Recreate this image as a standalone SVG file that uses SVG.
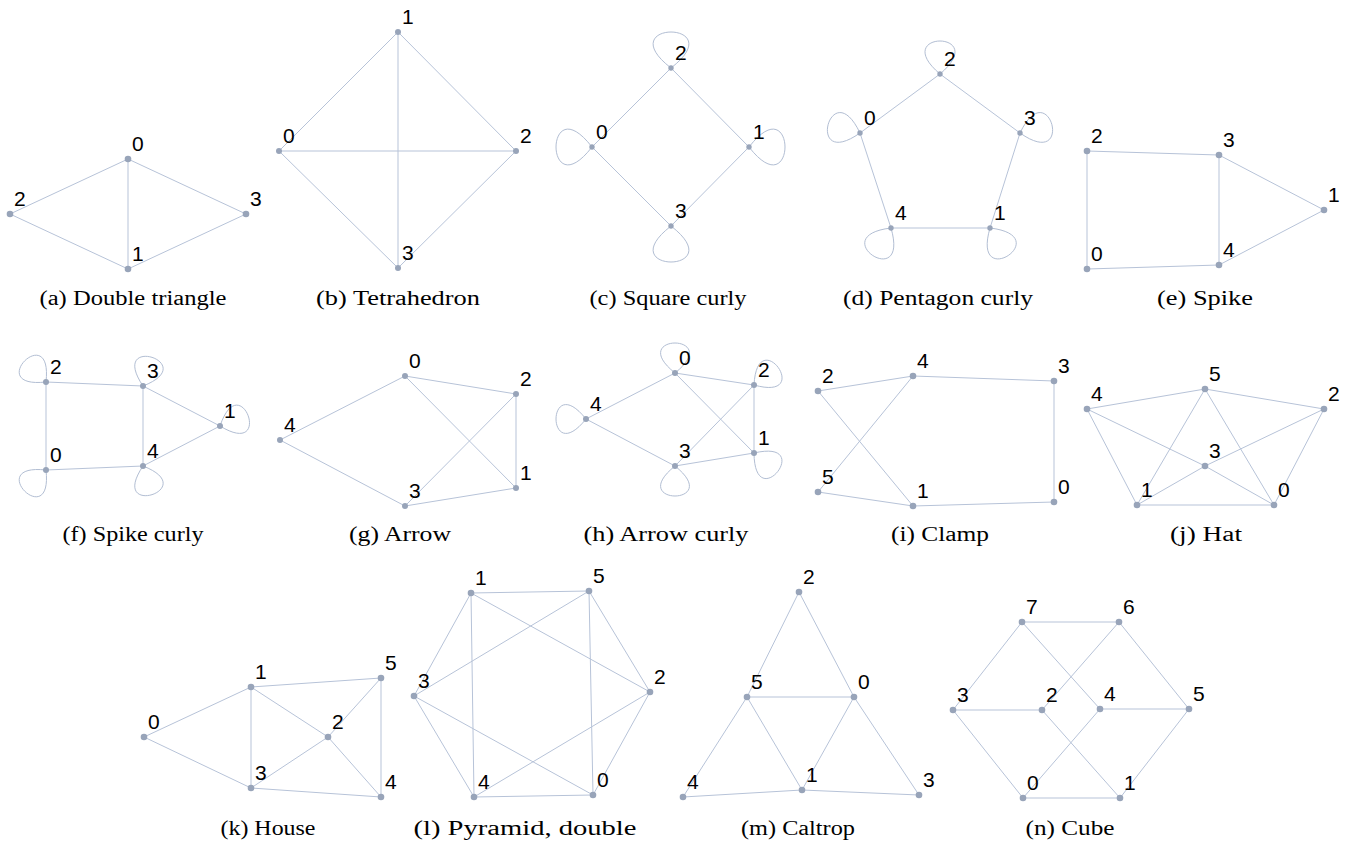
<svg xmlns="http://www.w3.org/2000/svg" width="1346" height="843" viewBox="0 0 1346 843">
<style>
.e line{stroke:#b7c3d8;stroke-width:1;fill:none}
.e path{stroke:#b2bed3;stroke-width:1;fill:none}
.n circle{fill:#98a4b9}
.n text{font-family:"Liberation Sans",Arial,sans-serif;font-size:21px;fill:#000}
.cap{font-family:"Liberation Serif","Times New Roman",serif;font-size:20px;fill:#000;text-anchor:middle}
</style>
<rect width="1346" height="843" fill="#fff"/>

<!-- (a) Double triangle -->
<g id="a">
<g id="a-edges" class="e">
<line x1="128" y1="159" x2="10" y2="214"/><line x1="128" y1="159" x2="246" y2="214"/><line x1="128" y1="159" x2="128" y2="269"/><line x1="10" y1="214" x2="128" y2="269"/><line x1="246" y1="214" x2="128" y2="269"/>
</g>
<g id="a-n0" class="n"><circle cx="128" cy="159" r="3.3"/><text x="132" y="151">0</text></g>
<g id="a-n1" class="n"><circle cx="128" cy="269" r="3.3"/><text x="132" y="261">1</text></g>
<g id="a-n2" class="n"><circle cx="10" cy="214" r="3.3"/><text x="14" y="206">2</text></g>
<g id="a-n3" class="n"><circle cx="246" cy="214" r="3.3"/><text x="250" y="206">3</text></g>
<text class="cap" x="133" y="305" textLength="187" lengthAdjust="spacingAndGlyphs">(a) Double triangle</text>
</g>

<!-- (b) Tetrahedron -->
<g id="b">
<g id="b-edges" class="e">
<line x1="279" y1="151" x2="398" y2="32"/><line x1="398" y1="32" x2="516" y2="151"/><line x1="279" y1="151" x2="516" y2="151"/><line x1="398" y1="32" x2="398" y2="268"/><line x1="279" y1="151" x2="398" y2="268"/><line x1="516" y1="151" x2="398" y2="268"/>
</g>
<g id="b-n0" class="n"><circle cx="279" cy="151" r="3"/><text x="283" y="143">0</text></g>
<g id="b-n1" class="n"><circle cx="398" cy="32" r="3"/><text x="402" y="24">1</text></g>
<g id="b-n2" class="n"><circle cx="516" cy="151" r="3"/><text x="520" y="143">2</text></g>
<g id="b-n3" class="n"><circle cx="398" cy="268" r="3"/><text x="402" y="260">3</text></g>
<text class="cap" x="398" y="305" textLength="164" lengthAdjust="spacingAndGlyphs">(b) Tetrahedron</text>
</g>

<!-- (c) Square curly -->
<g id="c">
<g id="c-edges" class="e">
<line x1="671" y1="68" x2="592" y2="147"/><line x1="671" y1="68" x2="749" y2="147"/><line x1="592" y1="147" x2="671" y2="226"/><line x1="749" y1="147" x2="671" y2="226"/>
<path d="M671,68 C609,20 733,20 671,68"/>
<path d="M592,147 C544,85 544,209 592,147"/>
<path d="M749,147 C797,85 797,209 749,147"/>
<path d="M671,226 C609,274 733,274 671,226"/>
</g>
<g id="c-n0" class="n"><circle cx="592" cy="147" r="2.7"/><text x="596" y="139">0</text></g>
<g id="c-n1" class="n"><circle cx="749" cy="147" r="2.7"/><text x="753" y="139">1</text></g>
<g id="c-n2" class="n"><circle cx="671" cy="68" r="2.7"/><text x="675" y="60">2</text></g>
<g id="c-n3" class="n"><circle cx="671" cy="226" r="2.7"/><text x="675" y="218">3</text></g>
<text class="cap" x="668" y="305" textLength="157" lengthAdjust="spacingAndGlyphs">(c) Square curly</text>
</g>

<!-- (d) Pentagon curly -->
<g id="d">
<g id="d-edges" class="e">
<line x1="940" y1="74" x2="860" y2="133"/><line x1="940" y1="74" x2="1020" y2="133"/><line x1="860" y1="133" x2="891" y2="228"/><line x1="1020" y1="133" x2="990" y2="228"/><line x1="891" y1="228" x2="990" y2="228"/>
<path d="M940,74 C888,30 992,30 940,74"/>
<path d="M860,133 C804.3,172.1 830.7,71.5 860,133"/>
<path d="M1020,133 C1049.3,71.5 1075.7,172.1 1020,133"/>
<path d="M891,228 C910.1,293.4 823.3,236 891,228"/>
<path d="M990,228 C1057.7,236 970.9,293.4 990,228"/>
</g>
<g id="d-n0" class="n"><circle cx="860" cy="133" r="2.7"/><text x="864" y="125">0</text></g>
<g id="d-n1" class="n"><circle cx="990" cy="228" r="2.7"/><text x="994" y="220">1</text></g>
<g id="d-n2" class="n"><circle cx="940" cy="74" r="2.7"/><text x="944" y="66">2</text></g>
<g id="d-n3" class="n"><circle cx="1020" cy="133" r="2.7"/><text x="1024" y="125">3</text></g>
<g id="d-n4" class="n"><circle cx="891" cy="228" r="2.7"/><text x="895" y="220">4</text></g>
<text class="cap" x="938" y="305" textLength="190" lengthAdjust="spacingAndGlyphs">(d) Pentagon curly</text>
</g>

<!-- (e) Spike -->
<g id="e">
<g id="e-edges" class="e">
<line x1="1087" y1="151" x2="1219" y2="155"/><line x1="1087" y1="151" x2="1087" y2="269"/><line x1="1219" y1="155" x2="1219" y2="265"/><line x1="1219" y1="155" x2="1324" y2="210"/><line x1="1219" y1="265" x2="1324" y2="210"/><line x1="1087" y1="269" x2="1219" y2="265"/>
</g>
<g id="e-n0" class="n"><circle cx="1087" cy="269" r="3.3"/><text x="1091" y="261">0</text></g>
<g id="e-n1" class="n"><circle cx="1324" cy="210" r="3.3"/><text x="1328" y="202">1</text></g>
<g id="e-n2" class="n"><circle cx="1087" cy="151" r="3.3"/><text x="1091" y="143">2</text></g>
<g id="e-n3" class="n"><circle cx="1219" cy="155" r="3.3"/><text x="1223" y="147">3</text></g>
<g id="e-n4" class="n"><circle cx="1219" cy="265" r="3.3"/><text x="1223" y="257">4</text></g>
<text class="cap" x="1205" y="305" textLength="96" lengthAdjust="spacingAndGlyphs">(e) Spike</text>
</g>

<!-- (f) Spike curly -->
<g id="f">
<g id="f-edges" class="e">
<line x1="46" y1="382" x2="143" y2="386"/><line x1="46" y1="382" x2="46" y2="470"/><line x1="143" y1="386" x2="143" y2="466"/><line x1="143" y1="386" x2="220" y2="426"/><line x1="143" y1="466" x2="220" y2="426"/><line x1="46" y1="470" x2="143" y2="466"/>
<path d="M46,382 C-17.7,389.1 53.1,318.3 46,382"/>
<path d="M143,386 C107.3,332.8 202.7,362.8 143,386"/>
<path d="M220,426 C240.6,365.4 274.6,459.4 220,426"/>
<path d="M46,470 C53.1,533.7 -17.7,462.9 46,470"/>
<path d="M143,466 C202.7,489.2 107.3,519.2 143,466"/>
</g>
<g id="f-n0" class="n"><circle cx="46" cy="470" r="3"/><text x="50" y="462">0</text></g>
<g id="f-n1" class="n"><circle cx="220" cy="426" r="3"/><text x="224" y="418">1</text></g>
<g id="f-n2" class="n"><circle cx="46" cy="382" r="3"/><text x="50" y="374">2</text></g>
<g id="f-n3" class="n"><circle cx="143" cy="386" r="3"/><text x="147" y="378">3</text></g>
<g id="f-n4" class="n"><circle cx="143" cy="466" r="3"/><text x="147" y="458">4</text></g>
<text class="cap" x="133" y="541" textLength="141" lengthAdjust="spacingAndGlyphs">(f) Spike curly</text>
</g>

<!-- (g) Arrow -->
<g id="g">
<g id="g-edges" class="e">
<line x1="405" y1="376" x2="280" y2="440"/><line x1="405" y1="376" x2="516" y2="394"/><line x1="405" y1="376" x2="516" y2="488"/><line x1="516" y1="394" x2="405" y2="506"/><line x1="516" y1="394" x2="516" y2="488"/><line x1="280" y1="440" x2="405" y2="506"/><line x1="405" y1="506" x2="516" y2="488"/>
</g>
<g id="g-n0" class="n"><circle cx="405" cy="376" r="3"/><text x="409" y="368">0</text></g>
<g id="g-n1" class="n"><circle cx="516" cy="488" r="3"/><text x="520" y="480">1</text></g>
<g id="g-n2" class="n"><circle cx="516" cy="394" r="3"/><text x="520" y="386">2</text></g>
<g id="g-n3" class="n"><circle cx="405" cy="506" r="3"/><text x="409" y="498">3</text></g>
<g id="g-n4" class="n"><circle cx="280" cy="440" r="3"/><text x="284" y="432">4</text></g>
<text class="cap" x="400" y="541" textLength="102" lengthAdjust="spacingAndGlyphs">(g) Arrow</text>
</g>

<!-- (h) Arrow curly -->
<g id="h">
<g id="h-edges" class="e">
<line x1="675" y1="373" x2="586" y2="419"/><line x1="675" y1="373" x2="754" y2="385"/><line x1="675" y1="373" x2="754" y2="453"/><line x1="754" y1="385" x2="675" y2="466"/><line x1="754" y1="385" x2="754" y2="453"/><line x1="586" y1="419" x2="675" y2="466"/><line x1="675" y1="466" x2="754" y2="453"/>
<path d="M675,373 C625,333 725,333 675,373"/>
<path d="M754,385 C757.4,321.3 815.4,402.3 754,385"/>
<path d="M586,419 C546,469 546,369 586,419"/>
<path d="M754,453 C816.6,438.3 754.6,517.3 754,453"/>
<path d="M675,466 C725,506 625,506 675,466"/>
</g>
<g id="h-n0" class="n"><circle cx="675" cy="373" r="3"/><text x="679" y="365">0</text></g>
<g id="h-n1" class="n"><circle cx="754" cy="453" r="3"/><text x="758" y="445">1</text></g>
<g id="h-n2" class="n"><circle cx="754" cy="385" r="3"/><text x="758" y="377">2</text></g>
<g id="h-n3" class="n"><circle cx="675" cy="466" r="3"/><text x="679" y="458">3</text></g>
<g id="h-n4" class="n"><circle cx="586" cy="419" r="3"/><text x="590" y="411">4</text></g>
<text class="cap" x="666" y="541" textLength="165" lengthAdjust="spacingAndGlyphs">(h) Arrow curly</text>
</g>

<!-- (i) Clamp -->
<g id="i">
<g id="i-edges" class="e">
<line x1="818" y1="391" x2="913" y2="376"/><line x1="913" y1="376" x2="1054" y2="381"/><line x1="1054" y1="381" x2="1054" y2="502"/><line x1="818" y1="391" x2="913" y2="506"/><line x1="913" y1="376" x2="818" y2="492"/><line x1="818" y1="492" x2="913" y2="506"/><line x1="913" y1="506" x2="1054" y2="502"/>
</g>
<g id="i-n0" class="n"><circle cx="1054" cy="502" r="3.3"/><text x="1058" y="494">0</text></g>
<g id="i-n1" class="n"><circle cx="913" cy="506" r="3.3"/><text x="917" y="498">1</text></g>
<g id="i-n2" class="n"><circle cx="818" cy="391" r="3.3"/><text x="822" y="383">2</text></g>
<g id="i-n3" class="n"><circle cx="1054" cy="381" r="3.3"/><text x="1058" y="373">3</text></g>
<g id="i-n4" class="n"><circle cx="913" cy="376" r="3.3"/><text x="917" y="368">4</text></g>
<g id="i-n5" class="n"><circle cx="818" cy="492" r="3.3"/><text x="822" y="484">5</text></g>
<text class="cap" x="940" y="541" textLength="98" lengthAdjust="spacingAndGlyphs">(i) Clamp</text>
</g>

<!-- (j) Hat -->
<g id="j">
<g id="j-edges" class="e">
<line x1="1087" y1="409" x2="1205" y2="389"/><line x1="1205" y1="389" x2="1324" y2="409"/><line x1="1087" y1="409" x2="1137" y2="505"/><line x1="1087" y1="409" x2="1205" y2="466"/><line x1="1205" y1="466" x2="1274" y2="505"/><line x1="1324" y1="409" x2="1205" y2="466"/><line x1="1205" y1="466" x2="1137" y2="505"/><line x1="1205" y1="389" x2="1137" y2="505"/><line x1="1205" y1="389" x2="1274" y2="505"/><line x1="1324" y1="409" x2="1274" y2="505"/><line x1="1137" y1="505" x2="1274" y2="505"/>
</g>
<g id="j-n0" class="n"><circle cx="1274" cy="505" r="3.3"/><text x="1278" y="497">0</text></g>
<g id="j-n1" class="n"><circle cx="1137" cy="505" r="3.3"/><text x="1141" y="497">1</text></g>
<g id="j-n2" class="n"><circle cx="1324" cy="409" r="3.3"/><text x="1328" y="401">2</text></g>
<g id="j-n3" class="n"><circle cx="1205" cy="466" r="3.3"/><text x="1209" y="458">3</text></g>
<g id="j-n4" class="n"><circle cx="1087" cy="409" r="3.3"/><text x="1091" y="401">4</text></g>
<g id="j-n5" class="n"><circle cx="1205" cy="389" r="3.3"/><text x="1209" y="381">5</text></g>
<text class="cap" x="1206" y="541" textLength="72" lengthAdjust="spacingAndGlyphs">(j) Hat</text>
</g>

<!-- (k) House -->
<g id="k">
<g id="k-edges" class="e">
<line x1="144" y1="737" x2="251" y2="687"/><line x1="144" y1="737" x2="251" y2="788"/><line x1="251" y1="687" x2="381" y2="678"/><line x1="251" y1="687" x2="251" y2="788"/><line x1="251" y1="687" x2="328" y2="737"/><line x1="328" y1="737" x2="381" y2="678"/><line x1="328" y1="737" x2="251" y2="788"/><line x1="328" y1="737" x2="381" y2="797"/><line x1="381" y1="678" x2="381" y2="797"/><line x1="251" y1="788" x2="381" y2="797"/>
</g>
<g id="k-n0" class="n"><circle cx="144" cy="737" r="3.3"/><text x="148" y="729">0</text></g>
<g id="k-n1" class="n"><circle cx="251" cy="687" r="3.3"/><text x="255" y="679">1</text></g>
<g id="k-n2" class="n"><circle cx="328" cy="737" r="3.3"/><text x="332" y="729">2</text></g>
<g id="k-n3" class="n"><circle cx="251" cy="788" r="3.3"/><text x="255" y="780">3</text></g>
<g id="k-n4" class="n"><circle cx="381" cy="797" r="3.3"/><text x="385" y="789">4</text></g>
<g id="k-n5" class="n"><circle cx="381" cy="678" r="3.3"/><text x="385" y="670">5</text></g>
<text class="cap" x="268" y="835" textLength="95" lengthAdjust="spacingAndGlyphs">(k) House</text>
</g>

<!-- (l) Pyramid, double -->
<g id="l">
<g id="l-edges" class="e">
<line x1="471" y1="593" x2="589" y2="591"/><line x1="471" y1="593" x2="414" y2="696"/><line x1="471" y1="593" x2="474" y2="797"/><line x1="471" y1="593" x2="650" y2="692"/><line x1="589" y1="591" x2="414" y2="696"/><line x1="589" y1="591" x2="593" y2="795"/><line x1="589" y1="591" x2="650" y2="692"/><line x1="414" y1="696" x2="474" y2="797"/><line x1="414" y1="696" x2="593" y2="795"/><line x1="650" y1="692" x2="474" y2="797"/><line x1="650" y1="692" x2="593" y2="795"/><line x1="474" y1="797" x2="593" y2="795"/>
</g>
<g id="l-n0" class="n"><circle cx="593" cy="795" r="3.3"/><text x="597" y="787">0</text></g>
<g id="l-n1" class="n"><circle cx="471" cy="593" r="3.3"/><text x="475" y="585">1</text></g>
<g id="l-n2" class="n"><circle cx="650" cy="692" r="3.3"/><text x="654" y="684">2</text></g>
<g id="l-n3" class="n"><circle cx="414" cy="696" r="3.3"/><text x="418" y="688">3</text></g>
<g id="l-n4" class="n"><circle cx="474" cy="797" r="3.3"/><text x="478" y="789">4</text></g>
<g id="l-n5" class="n"><circle cx="589" cy="591" r="3.3"/><text x="593" y="583">5</text></g>
<text class="cap" x="525" y="835" textLength="223" lengthAdjust="spacingAndGlyphs">(l) Pyramid, double</text>
</g>

<!-- (m) Caltrop -->
<g id="m">
<g id="m-edges" class="e">
<line x1="799" y1="592" x2="747" y2="697"/><line x1="799" y1="592" x2="854" y2="697"/><line x1="747" y1="697" x2="854" y2="697"/><line x1="747" y1="697" x2="683" y2="797"/><line x1="747" y1="697" x2="802" y2="790"/><line x1="854" y1="697" x2="802" y2="790"/><line x1="854" y1="697" x2="919" y2="795"/><line x1="683" y1="797" x2="802" y2="790"/><line x1="802" y1="790" x2="919" y2="795"/>
</g>
<g id="m-n0" class="n"><circle cx="854" cy="697" r="3.3"/><text x="858" y="689">0</text></g>
<g id="m-n1" class="n"><circle cx="802" cy="790" r="3.3"/><text x="806" y="782">1</text></g>
<g id="m-n2" class="n"><circle cx="799" cy="592" r="3.3"/><text x="803" y="584">2</text></g>
<g id="m-n3" class="n"><circle cx="919" cy="795" r="3.3"/><text x="923" y="787">3</text></g>
<g id="m-n4" class="n"><circle cx="683" cy="797" r="3.3"/><text x="687" y="789">4</text></g>
<g id="m-n5" class="n"><circle cx="747" cy="697" r="3.3"/><text x="751" y="689">5</text></g>
<text class="cap" x="798" y="835" textLength="114" lengthAdjust="spacingAndGlyphs">(m) Caltrop</text>
</g>

<!-- (n) Cube -->
<g id="n">
<g id="n-edges" class="e">
<line x1="1022" y1="622" x2="1119" y2="622"/><line x1="1022" y1="622" x2="953" y2="710"/><line x1="1022" y1="622" x2="1100" y2="709"/><line x1="1119" y1="622" x2="1042" y2="710"/><line x1="1119" y1="622" x2="1189" y2="709"/><line x1="953" y1="710" x2="1042" y2="710"/><line x1="953" y1="710" x2="1023" y2="798"/><line x1="1100" y1="709" x2="1189" y2="709"/><line x1="1100" y1="709" x2="1023" y2="798"/><line x1="1042" y1="710" x2="1120" y2="798"/><line x1="1189" y1="709" x2="1120" y2="798"/><line x1="1023" y1="798" x2="1120" y2="798"/>
</g>
<g id="n-n0" class="n"><circle cx="1023" cy="798" r="3.3"/><text x="1027" y="790">0</text></g>
<g id="n-n1" class="n"><circle cx="1120" cy="798" r="3.3"/><text x="1124" y="790">1</text></g>
<g id="n-n2" class="n"><circle cx="1042" cy="710" r="3.3"/><text x="1046" y="702">2</text></g>
<g id="n-n3" class="n"><circle cx="953" cy="710" r="3.3"/><text x="957" y="702">3</text></g>
<g id="n-n4" class="n"><circle cx="1100" cy="709" r="3.3"/><text x="1104" y="701">4</text></g>
<g id="n-n5" class="n"><circle cx="1189" cy="709" r="3.3"/><text x="1193" y="701">5</text></g>
<g id="n-n6" class="n"><circle cx="1119" cy="622" r="3.3"/><text x="1123" y="614">6</text></g>
<g id="n-n7" class="n"><circle cx="1022" cy="622" r="3.3"/><text x="1026" y="614">7</text></g>
<text class="cap" x="1070" y="835" textLength="89" lengthAdjust="spacingAndGlyphs">(n) Cube</text>
</g>
</svg>
